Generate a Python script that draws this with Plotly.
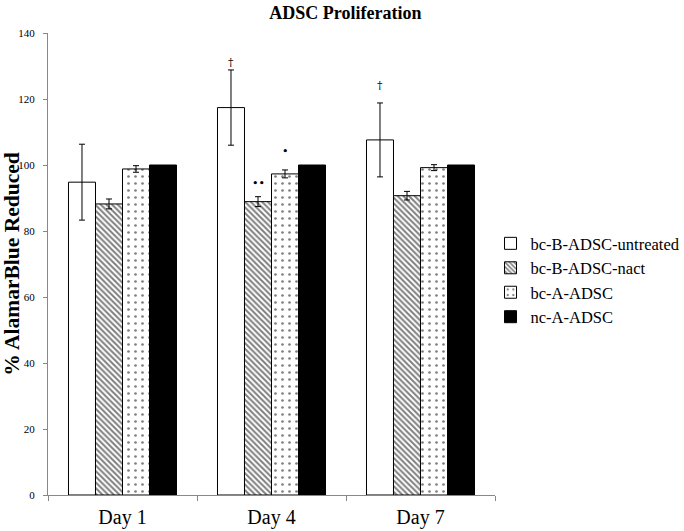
import plotly.graph_objects as go

days = ["Day 1", "Day 4", "Day 7"]
series_names = ["bc-B-ADSC-untreated", "bc-B-ADSC-nact", "bc-A-ADSC", "nc-A-ADSC"]
values = [
    [94.8, 117.4, 107.6],   # bc-B-ADSC-untreated
    [88.2, 88.9, 90.7],     # bc-B-ADSC-nact
    [98.8, 97.3, 99.2],     # bc-A-ADSC
    [100.0, 100.0, 100.0],  # nc-A-ADSC
]
errors = [
    [11.5, 11.4, 11.2],
    [1.5, 1.5, 1.3],
    [1.0, 1.2, 0.9],
    [0.0, 0.0, 0.0],
]
# significance marks: (day index, series index, label, y value)
sig_day = [1, 1, 1, 2]
sig_series = [0, 1, 2, 0]
sig_label = ["†", "••", "•", "†"]
sig_y = [131, 94.5, 104, 124]

SERIF = "Liberation Serif, Times New Roman, serif"
fills = ["white", "white", "white", "black"]
patterns = ["", "\\", ".", ""]
psize = [8, 4, 7, 8]
psolid = [0.2, 0.5, 0.12, 0.2]

bargap = 0.275
fig = go.Figure()
for i, name in enumerate(series_names):
    fig.add_trace(go.Bar(
        x=days, y=values[i], name=name,
        marker=dict(color=fills[i], line=dict(color="black", width=1),
                    pattern=dict(shape=patterns[i], fgcolor="black", bgcolor="white",
                                 size=psize[i], solidity=psolid[i])),
        error_y=dict(type="data", array=errors[i], visible=True, color="black",
                     thickness=1, width=3) if max(errors[i]) > 0 else None,
    ))

w = (1 - bargap) / len(series_names)
for d, s, lab, yv in zip(sig_day, sig_series, sig_label, sig_y):
    fig.add_annotation(x=d + (s - 1.5) * w, y=yv, text=lab, showarrow=False,
                       xref="x", yref="y",
                       font=dict(family="DejaVu Serif", size=11, color="#000000"))

fig.update_layout(
    width=684, height=531,
    paper_bgcolor="white", plot_bgcolor="white",
    margin=dict(l=48, r=189, t=33, b=36, autoexpand=False),
    barmode="group", bargap=bargap, bargroupgap=0,
    title=dict(text="<b>ADSC Proliferation</b>", x=0.505, xanchor="center",
               y=0.977, yanchor="middle", automargin=False,
               font=dict(family=SERIF, size=18, color="black")),
    font=dict(family=SERIF, color="black"),
    showlegend=True,
    legend=dict(x=0.99, xanchor="left", y=0.582, yanchor="top",
                font=dict(family=SERIF, size=16.5, color="black"),
                bgcolor="rgba(0,0,0,0)", itemwidth=30, tracegroupgap=0),
    xaxis=dict(type="category", showline=True, linecolor="#888", linewidth=1,
               ticks="outside", tickson="boundaries", ticklen=5, tickcolor="#888",
               tickfont=dict(family=SERIF, size=20, color="black"),
               ticklabelstandoff=4,
               showgrid=False, zeroline=False, automargin=False),
    yaxis=dict(range=[0, 140], tick0=0, dtick=20, showline=True, linecolor="#888",
               linewidth=1, ticks="outside", ticklen=4, tickcolor="#888",
               tickfont=dict(family=SERIF, size=11, color="black"),
               ticklabelstandoff=6,
               showgrid=False, zeroline=False, automargin=False,
               title=dict(text="<b>% AlamarBlue Reduced</b>", standoff=2,
                          font=dict(family=SERIF, size=21.5, color="black"))),
)

fig.write_html("out.html", config={"displayModeBar": False},
               post_script="document.body.style.margin='0';")
